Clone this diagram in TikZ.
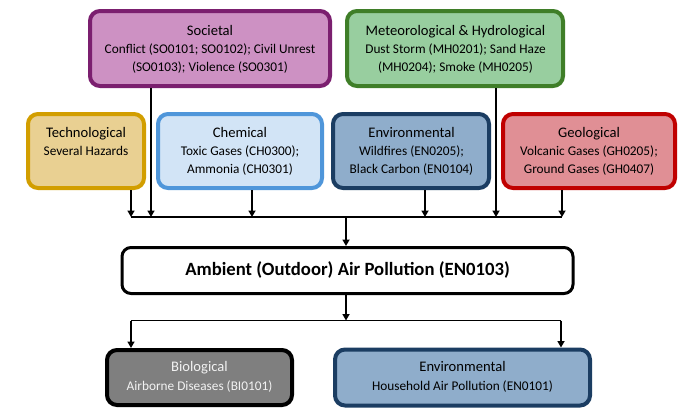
\documentclass[tikz,border=0pt]{standalone}
\usepackage{fontspec}
\setmainfont{Carlito}
\usetikzlibrary{arrows.meta}
\definecolor{socF}{HTML}{CD91C3}\definecolor{socD}{HTML}{7B1F6F}
\definecolor{metF}{HTML}{98CE9F}\definecolor{metD}{HTML}{3F7E28}
\definecolor{tecF}{HTML}{E9D092}\definecolor{tecD}{HTML}{D29E00}
\definecolor{chmF}{HTML}{D2E4F6}\definecolor{chmD}{HTML}{4F96DA}
\definecolor{envF}{HTML}{8FADCB}\definecolor{envD}{HTML}{1B3D62}
\definecolor{geoF}{HTML}{E08F95}\definecolor{geoD}{HTML}{C00000}
\definecolor{bioF}{HTML}{7F7F7F}\definecolor{bioT}{HTML}{F2F2F2}
\begin{document}
\begin{tikzpicture}[x=1pt,y=-1pt,
  cbox/.style={draw, rounded corners=10pt, line width=4pt, inner sep=0pt},
  ttl/.style={font=\fontsize{14.6}{17}\selectfont, inner sep=0pt, anchor=base},
  bdy/.style={font=\fontsize{13.3}{16}\selectfont, inner sep=0pt, anchor=base},
  conn/.style={line width=1.6pt, draw=black},
  arr/.style={conn, -{Triangle[width=7pt,length=6.5pt]}}]
\useasboundingbox (0,0) rectangle (684,413);
% boxes
\node[cbox, fill=socF, draw=socD, minimum width=240pt, minimum height=75pt] (soc) at (210,48.5) {};
\node[cbox, fill=metF, draw=metD, minimum width=216pt, minimum height=75pt] (met) at (455,48.5) {};
\node[cbox, fill=tecF, draw=tecD, minimum width=116pt, minimum height=74pt] (tec) at (86,151) {};
\node[cbox, fill=chmF, draw=chmD, minimum width=164pt, minimum height=74pt] (chm) at (240,151) {};
\node[cbox, fill=envF, draw=envD, minimum width=156pt, minimum height=74pt] (env) at (411,151) {};
\node[cbox, fill=geoF, draw=geoD, minimum width=172pt, minimum height=74pt] (geo) at (589,151) {};
\node[cbox, fill=white, draw=black, line width=3pt, rounded corners=9pt, minimum width=451pt, minimum height=46pt] (main) at (347.5,270.5) {};
\node[cbox, fill=bioF, draw=black, minimum width=185pt, minimum height=55pt] (bio) at (199.5,377.5) {};
\node[cbox, fill=envF, draw=envD, minimum width=255pt, minimum height=56pt] (hou) at (462.5,377.5) {};
% texts
\node[ttl] (socT) at (210,35) {Societal};
\node[bdy] (socB1) at (210,53) {Conflict (SO0101; SO0102); Civil Unrest};
\node[bdy] (socB2) at (210,71) {(SO0103); Violence (SO0301)};
\node[ttl] (metT) at (455.5,35) {Meteorological \& Hydrological};
\node[bdy] (metB1) at (455.5,53) {Dust Storm (MH0201); Sand Haze};
\node[bdy] (metB2) at (455.5,71) {(MH0204); Smoke (MH0205)};
\node[ttl] (tecT) at (86,137.5) {Technological};
\node[bdy] (tecB1) at (86,155.5) {Several Hazards};
\node[ttl] (chmT) at (240,137.5) {Chemical};
\node[bdy] (chmB1) at (240,155.5) {Toxic Gases (CH0300);};
\node[bdy] (chmB2) at (240,173.5) {Ammonia (CH0301)};
\node[ttl] (envT) at (411.5,137.5) {Environmental};
\node[bdy] (envB1) at (411.5,155.5) {Wildfires (EN0205);};
\node[bdy] (envB2) at (411.5,173.5) {Black Carbon (EN0104)};
\node[ttl] (geoT) at (589,137.5) {Geological};
\node[bdy] (geoB1) at (589,155.5) {Volcanic Gases (GH0205);};
\node[bdy] (geoB2) at (589,173.5) {Ground Gases (GH0407)};
\node[font=\fontsize{18.7}{22}\selectfont\bfseries, inner sep=0pt, anchor=base] (mainT) at (347.5,275) {Ambient (Outdoor) Air Pollution (EN0103)};
\node[ttl, text=bioT] (bioT) at (199.5,371.5) {Biological};
\node[bdy, text=bioT] (bioB) at (199.5,390) {Airborne Diseases (BI0101)};
\node[ttl] (houT) at (462.5,371.5) {Environmental};
\node[bdy] (houB) at (462.5,390) {Household Air Pollution (EN0101)};
% junction lines
\coordinate (hl) at (131,217);
\coordinate (hr) at (562,217);
\coordinate (hc) at (346,217);
\coordinate (bl) at (131,320.5);
\coordinate (br) at (561,320.5);
\coordinate (bc) at (346,320.5);
\draw[conn] (hl) -- (hr);
\draw[arr] ([xshift=45pt]tec.south) -- ([xshift=45pt]tec.south |- hl);
\draw[arr] ([xshift=-59pt]soc.south) -- ([xshift=-59pt]soc.south |- hl);
\draw[arr] ([xshift=12pt]chm.south) -- ([xshift=12pt]chm.south |- hl);
\draw[arr] ([xshift=14pt]env.south) -- ([xshift=14pt]env.south |- hl);
\draw[arr] ([xshift=41pt]met.south) -- ([xshift=41pt]met.south |- hl);
\draw[arr] ([xshift=-27pt]geo.south) -- ([xshift=-27pt]geo.south |- hl);
\draw[arr] (hc) -- (hc |- main.north);
\draw[arr] (main.south -| bc) -- (bc);
\draw[conn] (bl) -- (br);
\draw[arr] (bl) -- (bl |- bio.north);
\draw[arr] (br) -- (br |- hou.north);
\end{tikzpicture}
\end{document}
